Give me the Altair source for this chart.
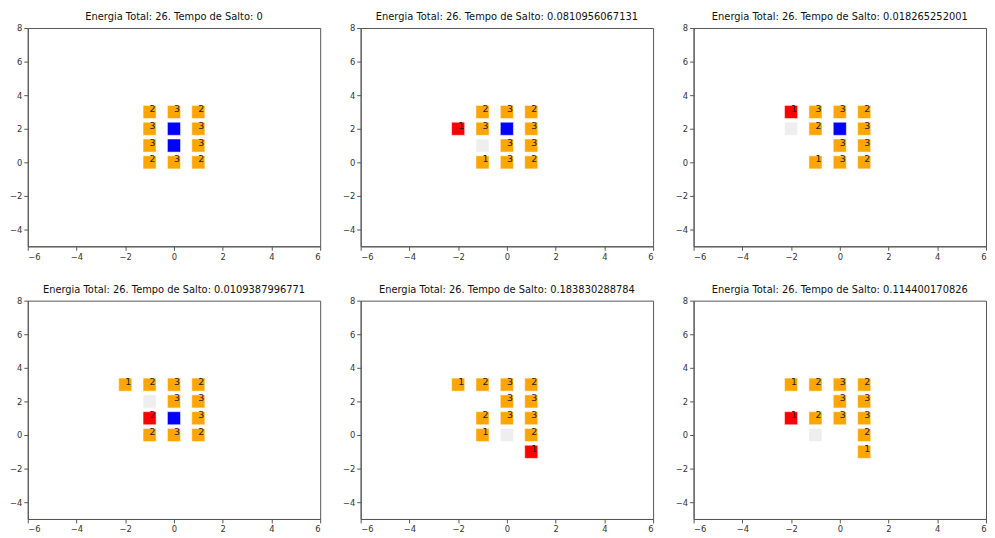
import altair as alt
import pandas as pd

# ---- data (one list per panel) ----
titles = [
    "Energia Total: 26. Tempo de Salto: 0",
    "Energia Total: 26. Tempo de Salto: 0.0810956067131",
    "Energia Total: 26. Tempo de Salto: 0.018265252001",
    "Energia Total: 26. Tempo de Salto: 0.0109387996771",
    "Energia Total: 26. Tempo de Salto: 0.183830288784",
    "Energia Total: 26. Tempo de Salto: 0.114400170826",
]

p1_x = [-1, 0, 1, -1, 0, 1, -1, 0, 1, -1, 0, 1]
p1_y = [3, 3, 3, 2, 2, 2, 1, 1, 1, 0, 0, 0]
p1_kind = ["orange", "orange", "orange", "orange", "blue", "orange",
           "orange", "blue", "orange", "orange", "orange", "orange"]
p1_label = ["2", "3", "2", "3", "", "3", "3", "", "3", "2", "3", "2"]

p2_x = [-1, 0, 1, -2, -1, 0, 1, -1, 0, 1, -1, 0, 1]
p2_y = [3, 3, 3, 2, 2, 2, 2, 1, 1, 1, 0, 0, 0]
p2_kind = ["orange", "orange", "orange", "red", "orange", "blue", "orange",
           "gray", "orange", "orange", "orange", "orange", "orange"]
p2_label = ["2", "3", "2", "1", "3", "", "3", "", "3", "3", "1", "3", "2"]

p3_x = [-2, -1, 0, 1, -2, -1, 0, 1, 0, 1, -1, 0, 1]
p3_y = [3, 3, 3, 3, 2, 2, 2, 2, 1, 1, 0, 0, 0]
p3_kind = ["red", "orange", "orange", "orange", "gray", "orange", "blue", "orange",
           "orange", "orange", "orange", "orange", "orange"]
p3_label = ["1", "3", "3", "2", "", "2", "", "3", "3", "3", "1", "3", "2"]

p4_x = [-2, -1, 0, 1, -1, 0, 1, -1, 0, 1, -1, 0, 1]
p4_y = [3, 3, 3, 3, 2, 2, 2, 1, 1, 1, 0, 0, 0]
p4_kind = ["orange", "orange", "orange", "orange", "gray", "orange", "orange",
           "red", "blue", "orange", "orange", "orange", "orange"]
p4_label = ["1", "2", "3", "2", "", "3", "3", "2", "", "3", "2", "3", "2"]

p5_x = [-2, -1, 0, 1, 0, 1, -1, 0, 1, -1, 0, 1, 1]
p5_y = [3, 3, 3, 3, 2, 2, 1, 1, 1, 0, 0, 0, -1]
p5_kind = ["orange", "orange", "orange", "orange", "orange", "orange",
           "orange", "orange", "orange", "orange", "gray", "orange", "red"]
p5_label = ["1", "2", "3", "2", "3", "3", "2", "3", "3", "1", "", "2", "1"]

p6_x = [-2, -1, 0, 1, 0, 1, -2, -1, 0, 1, -1, 1, 1]
p6_y = [3, 3, 3, 3, 2, 2, 1, 1, 1, 1, 0, 0, -1]
p6_kind = ["orange", "orange", "orange", "orange", "orange", "orange",
           "red", "orange", "orange", "orange", "gray", "orange", "orange"]
p6_label = ["1", "2", "3", "2", "3", "3", "1", "2", "3", "3", "", "2", "1"]

panels = [
    (p1_x, p1_y, p1_kind, p1_label),
    (p2_x, p2_y, p2_kind, p2_label),
    (p3_x, p3_y, p3_kind, p3_label),
    (p4_x, p4_y, p4_kind, p4_label),
    (p5_x, p5_y, p5_kind, p5_label),
    (p6_x, p6_y, p6_kind, p6_label),
]

x_ticks = [-6, -4, -2, 0, 2, 4, 6]
y_ticks = [-4, -2, 0, 2, 4, 6, 8]

kind_domain = ["orange", "blue", "red", "gray"]
kind_range = ["#FFA500", "#0000FF", "#FF0000", "#EEEEEE"]

FONT = "DejaVu Sans"
minus_expr = "replace(datum.label, '-', '\u2212')"


def panel(i):
    xs, ys, kinds, labels = panels[i]
    df = pd.DataFrame({"x": xs, "y": ys, "kind": kinds, "label": labels})
    base = alt.Chart(df).encode(
        x=alt.X("x:Q", scale=alt.Scale(domain=[-6, 6], nice=False, zero=False),
                axis=alt.Axis(values=x_ticks, title=None, grid=False,
                              labelExpr=minus_expr, tickSize=4, labelPadding=2,
                              labelOverlap=False)),
        y=alt.Y("y:Q", scale=alt.Scale(domain=[-5, 8], nice=False, zero=False),
                axis=alt.Axis(values=y_ticks, title=None, grid=False,
                              labelExpr=minus_expr, tickSize=4, labelPadding=2,
                              labelOverlap=False, tickCount=7)),
    )
    sq = base.mark_square(size=175, opacity=1, stroke="#FFFFFF",
                          strokeOpacity=0.5, strokeWidth=1).encode(
        color=alt.Color("kind:N", scale=alt.Scale(domain=kind_domain, range=kind_range),
                        legend=None),
    )
    txt = base.transform_filter("datum.label != ''").mark_text(
        align="left", baseline="alphabetic", fontSize=9.5, font=FONT, color="#222222"
    ).encode(text="label:N")
    return alt.layer(sq, txt).properties(
        width=296, height=221,
        title=alt.TitleParams(titles[i], fontSize=10, font=FONT, fontWeight="normal",
                              color="#111111", offset=2),
    )


row1 = alt.hconcat(panel(0), panel(1), panel(2), spacing=20)
row2 = alt.hconcat(panel(3), panel(4), panel(5), spacing=20)

chart = alt.vconcat(row1, row2, spacing=23).properties(
    padding={"left": 0, "top": 0, "right": 0, "bottom": 0}
).configure_view(
    stroke="#555555", strokeWidth=1
).configure_axis(
    labelFont=FONT, labelFontSize=8.5, labelColor="#333333",
    domainColor="#555555", tickColor="#555555",
).configure_title(anchor="middle")

chart.save("out.html", embed_options={"renderer": "svg", "actions": False})
